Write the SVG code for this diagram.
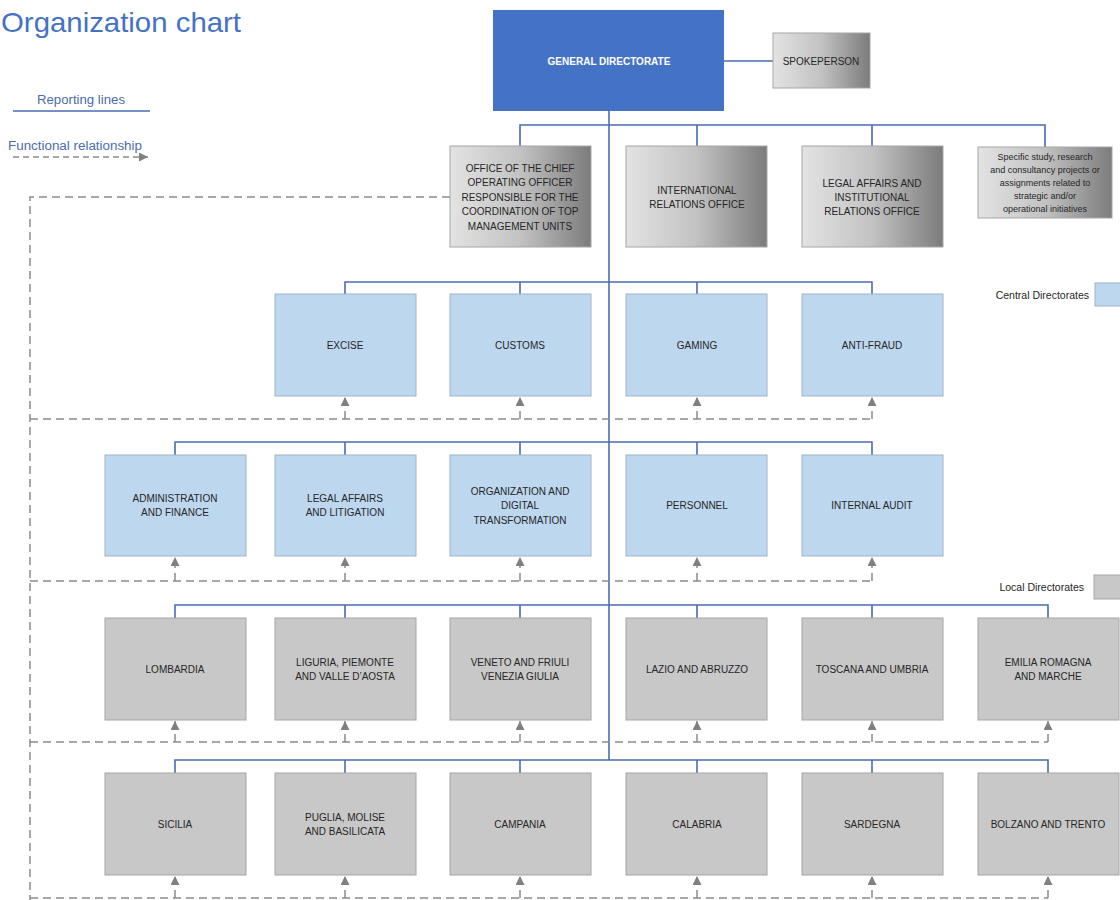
<svg xmlns="http://www.w3.org/2000/svg" width="1120" height="900" viewBox="0 0 1120 900">
<defs>
<linearGradient id="g" x1="0" y1="0" x2="1" y2="0">
<stop offset="0" stop-color="#e3e3e3"/>
<stop offset="0.5" stop-color="#c2c2c2"/>
<stop offset="1" stop-color="#7c7c7c"/>
</linearGradient>
<marker id="ar" viewBox="0 0 10 10" refX="10" refY="5" markerWidth="9" markerHeight="9" markerUnits="userSpaceOnUse" orient="auto">
<path d="M0,0 L10,5 L0,10 Z" fill="#808080" stroke="none"/>
</marker>
<style>
.t{font-family:"Liberation Sans",Arial,sans-serif;font-size:10px;fill:#262626;text-anchor:middle;dominant-baseline:central}
.ts{font-size:9px}
.te{text-anchor:end;font-size:10.5px}
.rep{stroke:#4a6cb0;stroke-width:1.6;fill:none}
.fun{stroke:#8c8c8c;stroke-width:1.5;fill:none;stroke-dasharray:8 5}
.arr{stroke:#8c8c8c;stroke-width:1.5;fill:none;stroke-dasharray:8 5;marker-end:url(#ar)}
.blue{fill:#bdd7ee;stroke:#9fb4c9;stroke-width:1}
.gray{fill:#c8c8c8;stroke:#a6a6a6;stroke-width:1}
.grad{fill:url(#g);stroke:#a6a6a6;stroke-width:1}
.leg{font-family:"Liberation Sans",Arial,sans-serif;font-size:12.5px;fill:#4a6cb0}
</style>
</defs>
<rect width="1120" height="900" fill="#ffffff"/>
<text x="1" y="32" font-family="Liberation Sans,Arial,sans-serif" font-size="28" fill="#4472c4" textLength="240" lengthAdjust="spacingAndGlyphs">Organization chart</text>
<g id="legend">
<text class="leg" x="81" y="104" text-anchor="middle" textLength="88" lengthAdjust="spacingAndGlyphs">Reporting lines</text>
<line class="rep" x1="13" y1="111" x2="150" y2="111"/>
<text class="leg" x="8" y="150" textLength="134" lengthAdjust="spacingAndGlyphs">Functional relationship</text>
<line x1="13" y1="157" x2="148" y2="157" stroke="#8c8c8c" stroke-width="1.5" stroke-dasharray="6 4" marker-end="url(#ar)"/>
<text class="t te" x="1089" y="295">Central Directorates</text>
<rect class="blue" x="1095" y="283" width="30" height="23"/>
<text class="t te" x="1084" y="587">Local Directorates</text>
<rect class="gray" x="1094" y="575" width="30" height="24"/>
</g>
<g id="connectors">
<path class="rep" d="M724,61 H773"/>
<path class="rep" d="M609,111 V760"/>
<path class="rep" d="M520,146 V125 H1045 V147 M697,125 V146 M872,125 V146"/>
<path class="rep" d="M345,294 V282 H872 V294 M520,282 V294 M697,282 V294"/>
<path class="rep" d="M175,455 V442 H872 V455 M345,442 V455 M520,442 V455 M697,442 V455"/>
<path class="rep" d="M175,618 V605 H1048 V618 M345,605 V618 M520,605 V618 M697,605 V618 M872,605 V618"/>
<path class="rep" d="M175,773 V760 H1048 V773 M345,760 V773 M520,760 V773 M697,760 V773 M872,760 V773"/>
<path class="fun" d="M450,197 H30 V900"/>
<path class="fun" d="M30,419 H872"/>
<path class="fun" d="M30,581 H872"/>
<path class="fun" d="M30,742 H1048"/>
<path class="fun" d="M30,898 H1048"/>
<path class="arr" d="M345,419 V397"/>
<path class="arr" d="M520,419 V397"/>
<path class="arr" d="M697,419 V397"/>
<path class="arr" d="M872,419 V397"/>
<path class="arr" d="M175,581 V557"/>
<path class="arr" d="M345,581 V557"/>
<path class="arr" d="M520,581 V557"/>
<path class="arr" d="M697,581 V557"/>
<path class="arr" d="M872,581 V557"/>
<path class="arr" d="M175,742 V721"/>
<path class="arr" d="M345,742 V721"/>
<path class="arr" d="M520,742 V721"/>
<path class="arr" d="M697,742 V721"/>
<path class="arr" d="M872,742 V721"/>
<path class="arr" d="M1048,742 V721"/>
<path class="arr" d="M175,898 V876"/>
<path class="arr" d="M345,898 V876"/>
<path class="arr" d="M520,898 V876"/>
<path class="arr" d="M697,898 V876"/>
<path class="arr" d="M872,898 V876"/>
<path class="arr" d="M1048,898 V876"/>
</g>
<g id="general-directorate">
<rect x="493" y="10" width="231" height="101" fill="#4472c4"/>
<text class="t" x="609" y="61" style="fill:#ffffff;font-weight:bold">GENERAL DIRECTORATE</text>
</g>
<g id="spokeperson">
<rect class="grad" x="773" y="33" width="97" height="55"/>
<text class="t" x="821" y="61">SPOKEPERSON</text>
</g>
<g id="coo-office">
<rect class="grad" x="450" y="146" width="141" height="101"/>
<text class="t" x="520" y="168">OFFICE OF THE CHIEF</text>
<text class="t" x="520" y="182">OPERATING OFFICER</text>
<text class="t" x="520" y="197">RESPONSIBLE  FOR THE</text>
<text class="t" x="520" y="211">COORDINATION OF TOP</text>
<text class="t" x="520" y="226">MANAGEMENT UNITS</text>
</g>
<g id="international-relations">
<rect class="grad" x="626" y="146" width="141" height="101"/>
<text class="t" x="697" y="190">INTERNATIONAL</text>
<text class="t" x="697" y="204">RELATIONS OFFICE</text>
</g>
<g id="legal-institutional">
<rect class="grad" x="802" y="146" width="141" height="101"/>
<text class="t" x="872" y="183">LEGAL AFFAIRS AND</text>
<text class="t" x="872" y="197">INSTITUTIONAL</text>
<text class="t" x="872" y="211">RELATIONS OFFICE</text>
</g>
<g id="specific-study">
<rect class="grad" x="978" y="147" width="134" height="71"/>
<text class="t ts" x="1045" y="157">Specific study, research</text>
<text class="t ts" x="1045" y="170">and consultancy projects or</text>
<text class="t ts" x="1045" y="183">assignments related to</text>
<text class="t ts" x="1045" y="196">strategic and/or</text>
<text class="t ts" x="1045" y="209">operational initiatives</text>
</g>
<g id="excise"><rect class="blue" x="275" y="294" width="141" height="102"/><text class="t" x="345" y="345">EXCISE</text></g>
<g id="customs"><rect class="blue" x="450" y="294" width="141" height="102"/><text class="t" x="520" y="345">CUSTOMS</text></g>
<g id="gaming"><rect class="blue" x="626" y="294" width="141" height="102"/><text class="t" x="697" y="345">GAMING</text></g>
<g id="anti-fraud"><rect class="blue" x="802" y="294" width="141" height="102"/><text class="t" x="872" y="345">ANTI-FRAUD</text></g>
<g id="admin-finance"><rect class="blue" x="105" y="455" width="141" height="101"/><text class="t" x="175" y="498">ADMINISTRATION</text><text class="t" x="175" y="512">AND FINANCE</text></g>
<g id="legal-litigation"><rect class="blue" x="275" y="455" width="141" height="101"/><text class="t" x="345" y="498">LEGAL AFFAIRS</text><text class="t" x="345" y="512">AND LITIGATION</text></g>
<g id="org-digital"><rect class="blue" x="450" y="455" width="141" height="101"/><text class="t" x="520" y="491">ORGANIZATION AND</text><text class="t" x="520" y="505">DIGITAL</text><text class="t" x="520" y="520">TRANSFORMATION</text></g>
<g id="personnel"><rect class="blue" x="626" y="455" width="141" height="101"/><text class="t" x="697" y="505">PERSONNEL</text></g>
<g id="internal-audit"><rect class="blue" x="802" y="455" width="141" height="101"/><text class="t" x="872" y="505">INTERNAL AUDIT</text></g>
<g id="lombardia"><rect class="gray" x="105" y="618" width="141" height="102"/><text class="t" x="175" y="669">LOMBARDIA</text></g>
<g id="liguria"><rect class="gray" x="275" y="618" width="141" height="102"/><text class="t" x="345" y="662">LIGURIA, PIEMONTE</text><text class="t" x="345" y="676">AND VALLE D’AOSTA</text></g>
<g id="veneto"><rect class="gray" x="450" y="618" width="141" height="102"/><text class="t" x="520" y="662">VENETO AND FRIULI</text><text class="t" x="520" y="676">VENEZIA GIULIA</text></g>
<g id="lazio"><rect class="gray" x="626" y="618" width="141" height="102"/><text class="t" x="697" y="669">LAZIO AND ABRUZZO</text></g>
<g id="toscana"><rect class="gray" x="802" y="618" width="141" height="102"/><text class="t" x="872" y="669">TOSCANA AND UMBRIA</text></g>
<g id="emilia"><rect class="gray" x="978" y="618" width="141" height="102"/><text class="t" x="1048" y="662">EMILIA ROMAGNA</text><text class="t" x="1048" y="676">AND MARCHE</text></g>
<g id="sicilia"><rect class="gray" x="105" y="773" width="141" height="102"/><text class="t" x="175" y="824">SICILIA</text></g>
<g id="puglia"><rect class="gray" x="275" y="773" width="141" height="102"/><text class="t" x="345" y="817">PUGLIA, MOLISE</text><text class="t" x="345" y="831">AND BASILICATA</text></g>
<g id="campania"><rect class="gray" x="450" y="773" width="141" height="102"/><text class="t" x="520" y="824">CAMPANIA</text></g>
<g id="calabria"><rect class="gray" x="626" y="773" width="141" height="102"/><text class="t" x="697" y="824">CALABRIA</text></g>
<g id="sardegna"><rect class="gray" x="802" y="773" width="141" height="102"/><text class="t" x="872" y="824">SARDEGNA</text></g>
<g id="bolzano"><rect class="gray" x="978" y="773" width="141" height="102"/><text class="t" x="1048" y="824">BOLZANO AND TRENTO</text></g>
</svg>
